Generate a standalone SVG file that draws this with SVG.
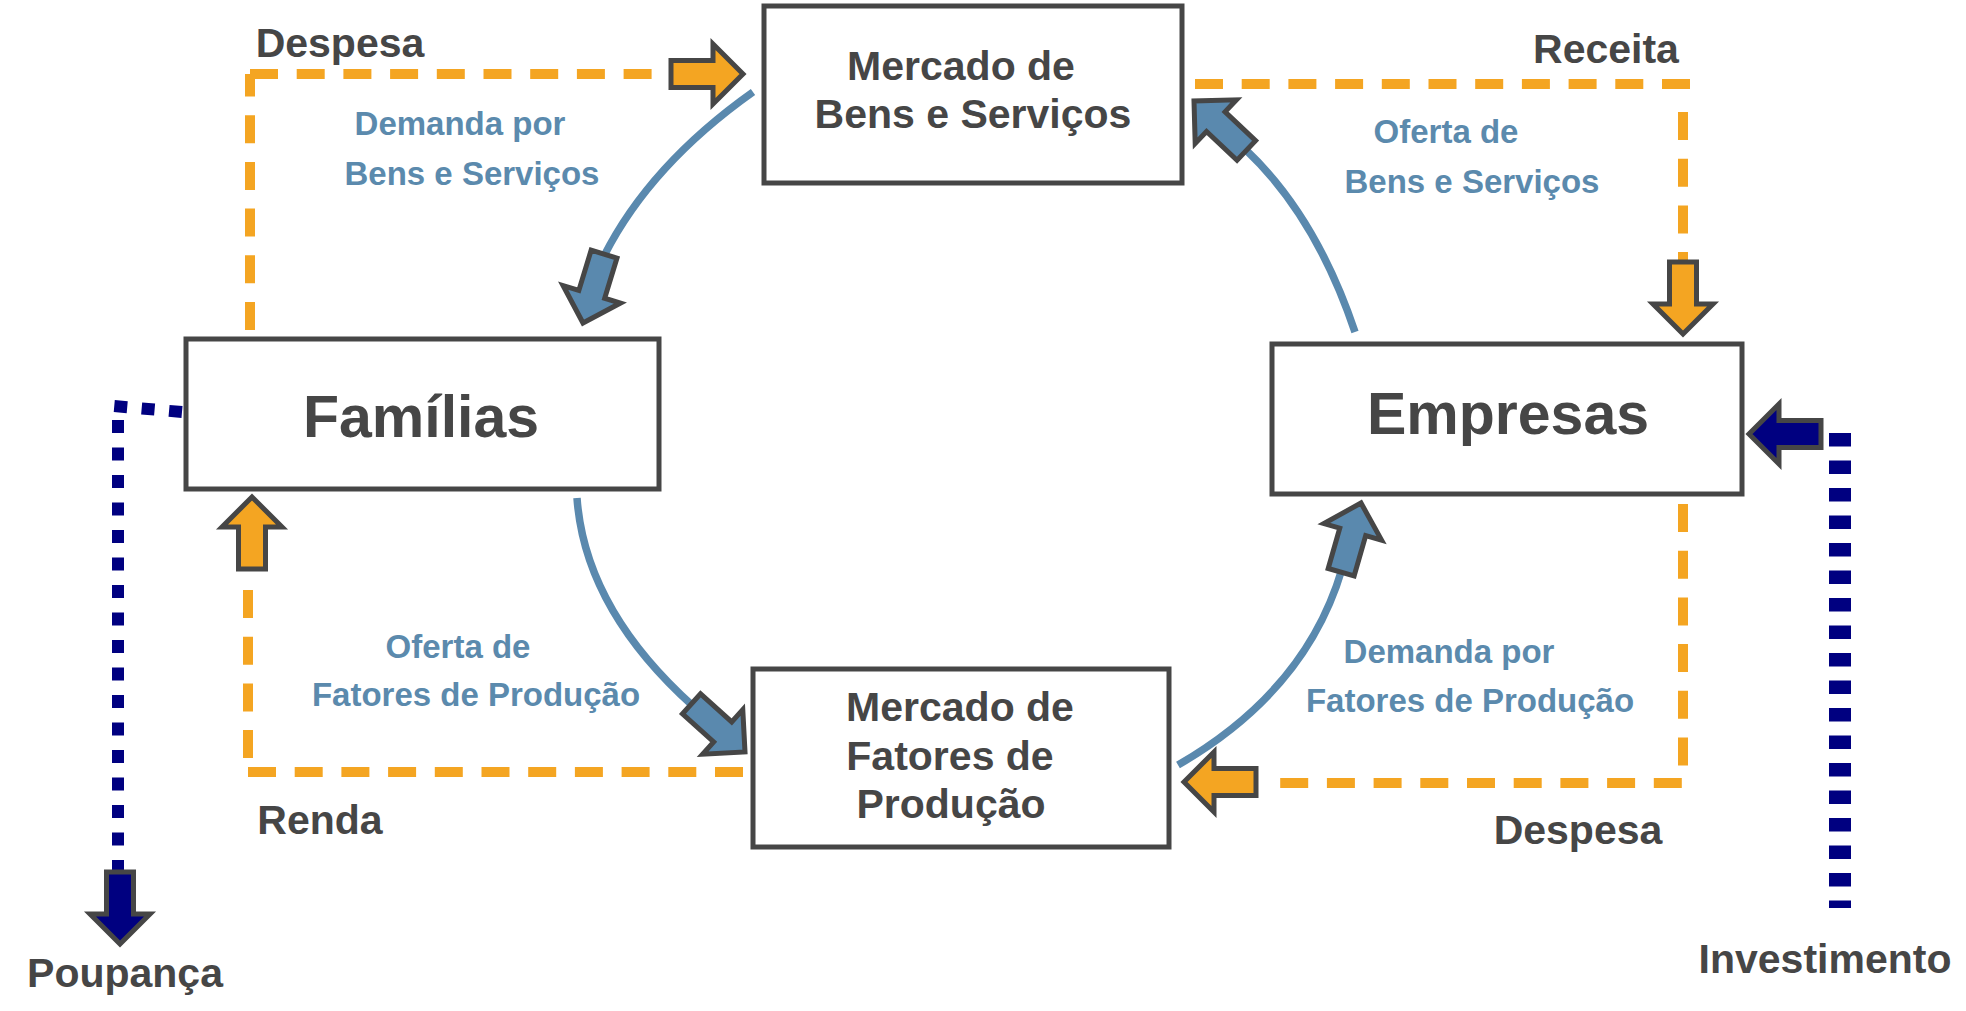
<svg xmlns="http://www.w3.org/2000/svg" xmlns:xlink="http://www.w3.org/1999/xlink" width="1966" height="1011" viewBox="0 0 1966 1011">
<style>
.box{fill:#ffffff;stroke:#464646;stroke-width:5}
.t{font-family:"Liberation Sans",Arial,Helvetica,sans-serif;font-weight:bold;fill:#464646;text-anchor:middle}
.big{font-size:59px}
.mid{font-size:41px}
.lbl{font-family:"Liberation Sans",Arial,Helvetica,sans-serif;font-weight:bold;font-size:33px;fill:#5B8AAD;text-anchor:middle}
.og{fill:none;stroke:#F4A522;stroke-width:10;stroke-dasharray:28 18.7}
.nv{fill:none;stroke:#000080;stroke-width:12;stroke-dasharray:13 14.5}
.nvw{fill:none;stroke:#000080;stroke-width:22;stroke-dasharray:13.5 14}
.bl{fill:none;stroke:#5A89AE;stroke-width:7.5}
.ao{fill:#F4A522}
.ab{fill:#5A89AE}
.an{fill:#000080}
</style>
<defs>
<path id="barrow" d="M0,0 L-30,-30 L-30,-13.5 L-72,-13.5 L-72,13.5 L-30,13.5 L-30,30 Z" stroke="#464646" stroke-width="5" stroke-linejoin="miter"/>
</defs>
<rect width="1966" height="1011" fill="#ffffff"/>
<g id="connectors">
<path class="og" d="M250,330 L250,74"/>
<path class="og" d="M250,74 L652,74"/>
<path class="og" d="M1195,84 L1693,84"/>
<path class="og" d="M1683,112 L1683,262"/>
<path class="og" d="M248,590 L248,772"/>
<path class="og" d="M248,772 L743,772"/>
<path class="og" d="M1683,504 L1683,783 L1275,783"/>
<path class="nv" d="M182,412 L114,406"/>
<path class="nv" d="M118,420 L118,870"/>
<path class="nvw" d="M1840,433 L1840,908"/>
<path class="bl" d="M753,92 Q650,165 604,256"/>
<path class="bl" d="M577,498 Q585,609 693,706"/>
<path class="bl" d="M1178,765 Q1306,691 1342,569"/>
<path class="bl" d="M1355,332 Q1316,216 1246,150"/>
<use xlink:href="#barrow" href="#barrow" class="ao" transform="translate(743,74)"/>
<use xlink:href="#barrow" href="#barrow" class="ab" transform="translate(583,323) rotate(107)"/>
<use xlink:href="#barrow" href="#barrow" class="ao" transform="translate(252,497) rotate(-90)"/>
<use xlink:href="#barrow" href="#barrow" class="ab" transform="translate(745,752) rotate(42)"/>
<use xlink:href="#barrow" href="#barrow" class="ao" transform="translate(1184,782) rotate(180)"/>
<use xlink:href="#barrow" href="#barrow" class="ab" transform="translate(1361,503) rotate(-74)"/>
<use xlink:href="#barrow" href="#barrow" class="ao" transform="translate(1683,334) rotate(90)"/>
<use xlink:href="#barrow" href="#barrow" class="ab" transform="translate(1194,101) rotate(-136.6)"/>
<use xlink:href="#barrow" href="#barrow" class="an" transform="translate(1749,434) rotate(180)"/>
<use xlink:href="#barrow" href="#barrow" class="an" transform="translate(120,944) rotate(90)"/>
</g>
<g id="labels">
<text class="t mid" x="340" y="57">Despesa</text>
<text class="t mid" x="1606" y="63">Receita</text>
<text class="t mid" x="320" y="834">Renda</text>
<text class="t mid" x="1578" y="844">Despesa</text>
<text class="t mid" x="125" y="987">Poupança</text>
<text class="t mid" x="1825" y="973">Investimento</text>
<text class="lbl" x="460" y="135">Demanda por</text>
<text class="lbl" x="472" y="185">Bens e Serviços</text>
<text class="lbl" x="458" y="658">Oferta de</text>
<text class="lbl" x="476" y="706">Fatores de Produção</text>
<text class="lbl" x="1446" y="143">Oferta de</text>
<text class="lbl" x="1472" y="193">Bens e Serviços</text>
<text class="lbl" x="1449" y="663">Demanda por</text>
<text class="lbl" x="1470" y="712">Fatores de Produção</text>
</g>
<g id="mercado-bens">
<rect class="box" x="764" y="6" width="418" height="177"/>
<text class="t mid" x="961" y="80">Mercado de</text>
<text class="t mid" x="973" y="128">Bens e Serviços</text>
</g>
<g id="familias">
<rect class="box" x="186" y="339" width="473" height="150"/>
<text class="t big" x="421" y="437">Famílias</text>
</g>
<g id="empresas">
<rect class="box" x="1272" y="344" width="470" height="150"/>
<text class="t big" x="1508" y="434">Empresas</text>
</g>
<g id="mercado-fatores">
<rect class="box" x="753" y="669" width="416" height="178"/>
<text class="t mid" x="960" y="721">Mercado de</text>
<text class="t mid" x="950" y="770">Fatores de</text>
<text class="t mid" x="951" y="818">Produção</text>
</g>
</svg>
